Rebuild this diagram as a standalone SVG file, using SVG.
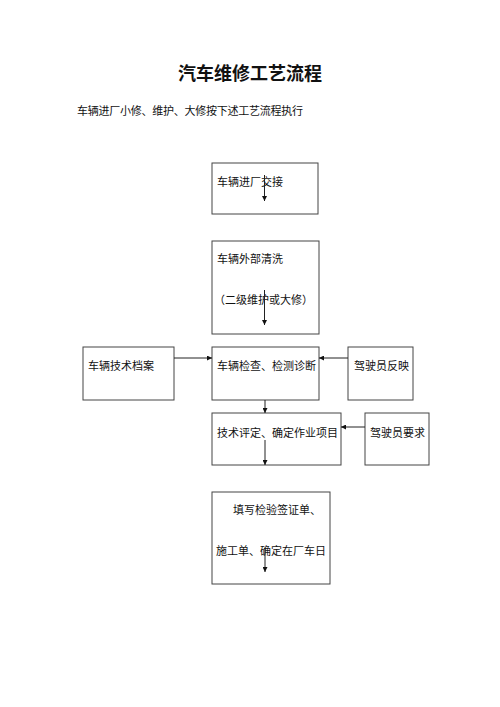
<svg xmlns="http://www.w3.org/2000/svg" width="500" height="707" viewBox="0 0 500 707">
<defs>
<style>
.box{fill:#fff;stroke:#444;stroke-width:1}
.t{font-family:"Liberation Serif","Noto Sans CJK SC",serif;font-size:11px;fill:#111}
.title{font-family:"Noto Sans CJK SC",sans-serif;font-size:18px;font-weight:bold;fill:#111}
.c{stroke:#222;stroke-width:1;fill:none}
</style>
<marker id="ah" viewBox="0 0 10 10" refX="10" refY="5" markerWidth="5" markerHeight="5" orient="auto">
<path d="M0,0 L10,5 L0,10 z" fill="#111"/>
</marker>
</defs>
<rect width="500" height="707" fill="#fff"/>
<text class="title" x="250" y="80" text-anchor="middle">汽车维修工艺流程</text>
<text class="t" x="77" y="115" textLength="226">车辆进厂小修、维护、大修按下述工艺流程执行</text>

<g id="n1"><rect class="box" x="212" y="163" width="106" height="51"/><text class="t" x="217" y="186">车辆进厂交接</text></g>
<g id="n2"><rect class="box" x="212" y="241" width="107" height="93"/><text class="t" x="217" y="263">车辆外部清洗</text><text class="t" x="214" y="304">（二级维护或大修）</text></g>
<g id="n3"><rect class="box" x="83" y="347" width="91" height="53"/><text class="t" x="88" y="370">车辆技术档案</text></g>
<g id="n4"><rect class="box" x="212" y="347" width="107" height="53"/><text class="t" x="217" y="370">车辆检查、检测诊断</text></g>
<g id="n5"><rect class="box" x="348" y="347" width="65" height="53"/><text class="t" x="354" y="370">驾驶员反映</text></g>
<g id="n6"><rect class="box" x="212" y="413" width="129" height="52"/><text class="t" x="217" y="437">技术评定、确定作业项目</text></g>
<g id="n7"><rect class="box" x="365" y="413" width="64" height="52"/><text class="t" x="370" y="437">驾驶员要求</text></g>
<g id="n8"><rect class="box" x="212" y="492" width="118" height="92"/><text class="t" x="233" y="514">填写检验签证单、</text><text class="t" x="216" y="555">施工单、确定在厂车日</text></g>

<g id="connectors">
<line class="c" x1="264.5" y1="175" x2="264.5" y2="201" marker-end="url(#ah)"/>
<line class="c" x1="264.5" y1="290" x2="264.5" y2="325" marker-end="url(#ah)"/>
<line class="c" x1="174" y1="358" x2="212" y2="358" marker-end="url(#ah)"/>
<line class="c" x1="348" y1="358" x2="319" y2="358" marker-end="url(#ah)"/>
<line class="c" x1="265" y1="400" x2="265" y2="413" marker-end="url(#ah)"/>
<line class="c" x1="365" y1="427" x2="341" y2="427" marker-end="url(#ah)"/>
<line class="c" x1="265" y1="440" x2="265" y2="465" marker-end="url(#ah)"/>
<line class="c" x1="265" y1="548" x2="265" y2="572" marker-end="url(#ah)"/>
</g>
</svg>
